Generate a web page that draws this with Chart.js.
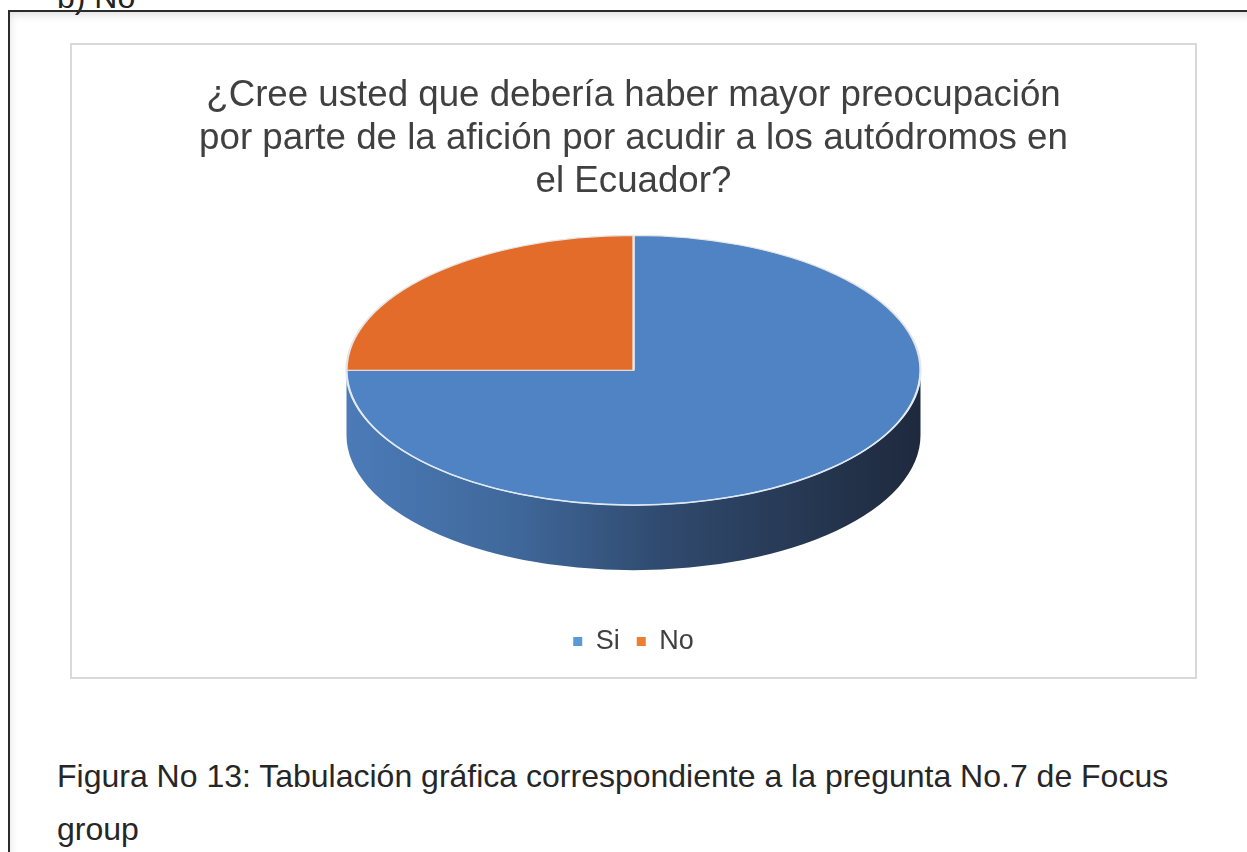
<!DOCTYPE html>
<html lang="es">
<head>
<meta charset="utf-8">
<script src="https://cdn.jsdelivr.net/npm/chart.js@4.4.1/dist/chart.umd.min.js"></script>
<style>
  html, body { margin: 0; padding: 0; background: #fff; width: 1247px; height: 852px; overflow: hidden;
               font-family: "Liberation Sans", Arial, sans-serif; }
  .frame { position: absolute; left: 8px; top: 10px; width: 1300px; height: 900px;
           border-top: 2px solid #2b2b2b; border-left: 2px solid #2b2b2b;
           box-shadow: inset 5px 8px 10px -6px rgba(0,0,0,0.15); }
  .prev { position: absolute; left: 57px; top: -19px; font-size: 32px; line-height: 32px; color: #222; }
  .box { position: absolute; left: 70px; top: 43px; width: 1123px; height: 632px;
         border: 2px solid #d9d9d9; background: #fff; }
  .box canvas { display: block; }
  .caption { position: absolute; left: 57px; top: 750px; font-size: 32px; line-height: 53px; color: #262626; }
</style>
</head>
<body>
<div class="prev">b) No</div>
<div class="frame"></div>
<div class="box"><canvas id="pieChart" width="1123" height="632"></canvas></div>
<div class="caption">Figura No 13: Tabulación gráfica correspondiente a la pregunta No.7 de Focus<br>group</div>

<script>
const labels = ['Si', 'No'];
const values = [75, 25];
const sliceColors = ['#4f83c3', '#e46c2b'];
const legendColors = ['#5b9bd5', '#ed7d31'];
const titleLines = [
    '¿Cree usted que debería haber mayor preocupación',
    'por parte de la afición por acudir a los autódromos en',
    'el Ecuador?'
];

// mix two hex colours, t = 0 gives a, t = 1 gives b
function mix(a, b, t) {
    const pa = [1, 3, 5].map(i => parseInt(a.substr(i, 2), 16));
    const pb = [1, 3, 5].map(i => parseInt(b.substr(i, 2), 16));
    return 'rgb(' + pa.map((v, k) => Math.round(v + (pb[k] - v) * t)).join(',') + ')';
}

// squash the flat pie into an ellipse and give it a side wall
const pie3d = {
    id: 'pie3d',
    geom(chart, opts) {
        const a = chart.chartArea;
        const arc = chart.getDatasetMeta(0).data[0];
        const rx = opts.width / 2;
        const ry = rx * opts.tilt;
        return { ax: arc.x, ay: arc.y, r: arc.outerRadius, cx: arc.x, cy: a.top + ry, rx, ry };
    },
    beforeDatasetsDraw(chart, args, opts) {
        const g = this.geom(chart, opts);
        const ctx = chart.ctx;
        const meta = chart.getDatasetMeta(0);
        meta.data.forEach((arc, i) => {
            const s = Math.max(arc.startAngle, 0);
            const e = Math.min(arc.endAngle, Math.PI);
            if (e <= s) return;
            const base = sliceColors[i];
            const grad = ctx.createLinearGradient(g.cx - g.rx, 0, g.cx + g.rx, 0);
            grad.addColorStop(0, mix(base, opts.shade, 0.08));
            grad.addColorStop(0.3, mix(base, opts.shade, 0.3));
            grad.addColorStop(0.55, mix(base, opts.shade, 0.6));
            grad.addColorStop(1, mix(base, opts.shade, 0.95));
            ctx.save();
            ctx.beginPath();
            ctx.ellipse(g.cx, g.cy, g.rx, g.ry, 0, s, e);
            ctx.ellipse(g.cx, g.cy + opts.depth, g.rx, g.ry, 0, e, s, true);
            ctx.closePath();
            ctx.fillStyle = grad;
            ctx.fill();
            ctx.restore();
        });
        ctx.save();
        ctx.translate(g.cx, g.cy);
        ctx.scale(g.rx / g.r, g.ry / g.r);
        ctx.translate(-g.ax, -g.ay);
    },
    afterDatasetsDraw(chart, args, opts) {
        const ctx = chart.ctx;
        ctx.restore();
        const g = this.geom(chart, opts);
        ctx.save();
        ctx.beginPath();
        ctx.ellipse(g.cx, g.cy, g.rx, g.ry, 0, 0.03, Math.PI - 0.03);
        ctx.strokeStyle = 'rgba(222,234,248,0.95)';
        ctx.lineWidth = 1.5;
        ctx.stroke();
        ctx.restore();
    }
};

const ctx = document.getElementById('pieChart').getContext('2d');
new Chart(ctx, {
    type: 'pie',
    data: {
        labels: labels,
        datasets: [{
            data: values,
            backgroundColor: sliceColors,
            borderColor: '#e6e6e6',
            borderWidth: 1.5,
            clip: false
        }]
    },
    options: {
        responsive: false,
        animation: false,
        events: [],
        layout: { padding: { left: 0, right: 0, top: 0, bottom: 12 } },
        plugins: {
            pie3d: { width: 574, tilt: 0.47, depth: 65, shade: '#1b2436' },
            tooltip: { enabled: false },
            title: {
                display: true,
                text: titleLines,
                color: '#404040',
                font: { family: '"Liberation Sans", Arial, sans-serif', size: 36.7, weight: 'normal', lineHeight: 1.175 },
                padding: { top: 29.5, bottom: 31.5 }
            },
            legend: {
                position: 'bottom',
                labels: {
                    boxWidth: 9,
                    boxHeight: 9,
                    padding: 17,
                    color: '#404040',
                    font: { family: '"Liberation Sans", Arial, sans-serif', size: 27 },
                    generateLabels: () => labels.map((l, i) => ({
                        text: l, fillStyle: legendColors[i], strokeStyle: legendColors[i],
                        lineWidth: 0, hidden: false, index: i, fontColor: '#404040'
                    }))
                }
            }
        }
    },
    plugins: [pie3d]
});
</script>
</body>
</html>
